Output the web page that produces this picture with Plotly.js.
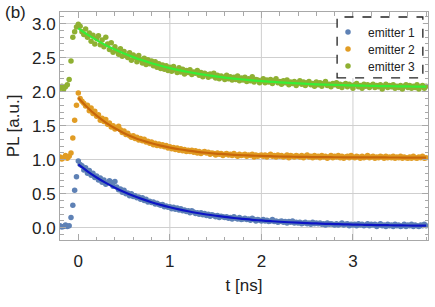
<!DOCTYPE html>
<html>
<head>
<meta charset="utf-8">
<script src="https://cdn.plot.ly/plotly-3.0.1.min.js"></script>
<style>
  html, body { margin: 0; padding: 0; background: #fff; }
  #plot { width: 435px; height: 307px; }
</style>
</head>
<body>
<div id="plot"></div>
<script>
// Time-resolved PL traces of three emitters (offset by 1 and 2), 20 ps bins
const binStart = -0.20;   // ns
const binWidth = 0.02;    // ns
const binCount = 201;

// emitter 1 (no offset)
const emitter1 = [
  0.03,0.01,0.02,0.04,0.02,0.03,0.15,0.33,0.55,0.75,
  0.98,
  0.93,0.91,0.85,0.88,0.80,0.84,0.77,0.80,0.74,0.76,
  0.70,0.73,0.67,0.70,0.64,0.66,0.69,0.67,0.61,0.68,
  0.60,0.56,0.57,0.52,0.55,0.50,0.51,0.47,0.50,0.46,
  0.47,0.44,0.45,0.42,0.44,0.40,0.42,0.38,0.39,0.37,
  0.38,0.35,0.36,0.34,0.33,0.34,0.31,0.32,0.30,0.31,
  0.28,0.30,0.27,0.29,0.26,0.28,0.25,0.26,0.24,0.25,
  0.22,0.25,0.23,0.21,0.22,0.20,0.22,0.19,0.21,0.18,
  0.20,0.17,0.19,0.18,0.16,0.18,0.15,0.17,0.16,0.15,
  0.16,0.14,0.15,0.13,0.16,0.14,0.13,0.15,0.12,0.13,
  0.14,0.12,0.13,0.11,0.14,0.12,0.10,0.12,0.11,0.10,
  0.12,0.10,0.11,0.09,0.10,0.12,0.09,0.10,0.08,0.09,
  0.10,0.08,0.09,0.07,0.09,0.08,0.10,0.07,0.08,0.07,
  0.08,0.06,0.07,0.08,0.06,0.07,0.05,0.08,0.06,0.07,
  0.06,0.07,0.05,0.06,0.04,0.07,0.05,0.06,0.05,0.04,
  0.06,0.04,0.05,0.07,0.04,0.05,0.06,0.03,0.05,0.04,
  0.05,0.03,0.06,0.04,0.05,0.03,0.04,0.06,0.03,0.05,
  0.04,0.05,0.02,0.04,0.06,0.03,0.04,0.02,0.05,0.03,
  0.04,0.02,0.05,0.03,0.04,0.02,0.03,0.05,0.02,0.04,
  0.03,0.05,0.02,0.04,0.03,0.02,0.04,0.03,0.05,0.03
];

// emitter 2 (offset +1)
const emitter2 = [
  1.04,1.01,1.03,1.06,1.02,1.05,1.10,1.32,1.58,1.80,
  1.98,
  1.90,1.86,1.83,1.79,1.80,1.72,1.76,1.68,1.71,1.64,
  1.66,1.58,1.61,1.56,1.59,1.52,1.54,1.48,1.50,1.45,
  1.47,1.49,1.44,1.40,1.42,1.37,1.39,1.35,1.33,1.35,
  1.31,1.33,1.29,1.31,1.28,1.30,1.26,1.27,1.24,1.26,
  1.22,1.24,1.21,1.23,1.20,1.22,1.19,1.21,1.17,1.19,
  1.16,1.18,1.15,1.17,1.14,1.16,1.13,1.15,1.12,1.14,
  1.12,1.14,1.11,1.13,1.10,1.12,1.09,1.11,1.12,1.10,
  1.11,1.08,1.10,1.09,1.07,1.10,1.08,1.09,1.06,1.08,
  1.09,1.07,1.08,1.06,1.09,1.07,1.05,1.08,1.06,1.07,
  1.08,1.05,1.07,1.06,1.08,1.04,1.07,1.05,1.06,1.07,
  1.05,1.07,1.04,1.06,1.08,1.05,1.06,1.04,1.07,1.05,
  1.06,1.04,1.05,1.07,1.03,1.06,1.05,1.04,1.06,1.05,
  1.04,1.06,1.03,1.05,1.07,1.04,1.05,1.03,1.06,1.04,
  1.05,1.03,1.06,1.04,1.05,1.02,1.04,1.06,1.03,1.05,
  1.04,1.06,1.03,1.05,1.02,1.04,1.05,1.03,1.06,1.04,
  1.03,1.05,1.04,1.02,1.05,1.03,1.04,1.06,1.03,1.04,
  1.05,1.02,1.04,1.03,1.05,1.04,1.02,1.05,1.03,1.04,
  1.03,1.05,1.02,1.04,1.03,1.05,1.02,1.04,1.03,1.02,
  1.04,1.02,1.05,1.03,1.02,1.04,1.03,1.05,1.02,1.03
];

// emitter 3 (offset +2)
const emitter3 = [
  2.05,2.08,2.04,2.07,2.10,2.18,2.45,2.80,2.88,2.95,
  2.99,
  2.96,2.88,2.84,2.92,2.80,2.86,2.74,2.83,2.70,2.78,
  2.82,2.69,2.76,2.66,2.80,2.70,2.62,2.72,2.58,2.66,
  2.60,2.55,2.63,2.52,2.59,2.53,2.50,2.57,2.46,2.54,
  2.50,2.44,2.53,2.47,2.42,2.49,2.40,2.47,2.41,2.45,
  2.38,2.44,2.36,2.41,2.34,2.39,2.33,2.38,2.31,2.36,
  2.30,2.37,2.32,2.28,2.35,2.29,2.33,2.26,2.31,2.28,
  2.32,2.25,2.29,2.27,2.31,2.24,2.28,2.22,2.27,2.25,
  2.21,2.26,2.23,2.27,2.20,2.24,2.19,2.23,2.21,2.18,
  2.24,2.19,2.22,2.17,2.21,2.18,2.23,2.16,2.20,2.17,
  2.21,2.15,2.19,2.16,2.22,2.14,2.18,2.17,2.13,2.16,
  2.19,2.13,2.17,2.14,2.18,2.12,2.16,2.19,2.13,2.15,
  2.11,2.16,2.13,2.17,2.10,2.14,2.12,2.15,2.09,2.13,
  2.16,2.11,2.14,2.09,2.13,2.15,2.10,2.12,2.08,2.14,
  2.10,2.13,2.08,2.12,2.15,2.09,2.11,2.07,2.12,2.10,
  2.13,2.08,2.11,2.06,2.10,2.12,2.07,2.11,2.09,2.05,
  2.10,2.12,2.07,2.09,2.05,2.11,2.08,2.10,2.06,2.09,
  2.11,2.06,2.09,2.07,2.10,2.04,2.08,2.11,2.06,2.09,
  2.07,2.10,2.05,2.08,2.06,2.09,2.04,2.08,2.10,2.06,
  2.09,2.05,2.08,2.06,2.10,2.04,2.07,2.09,2.05,2.08
];

// Mono-exponential fits, sampled every 0.1 ns from t = 0
const fitStep = 0.1;
const fit1 = [0.930,0.829,0.739,0.659,0.588,0.525,0.469,0.420,0.375,0.336,
  0.301,0.270,0.242,0.217,0.195,0.176,0.159,0.143,0.130,0.117,
  0.107,0.097,0.088,0.081,0.074,0.068,0.063,0.058,0.054,0.050,
  0.047,0.044,0.041,0.039,0.037,0.035,0.033,0.032,0.030];
const fit2 = [1.910,1.766,1.646,1.545,1.461,1.390,1.331,1.282,1.241,1.206,
  1.178,1.153,1.133,1.116,1.102,1.090,1.081,1.072,1.065,1.060,
  1.055,1.051,1.047,1.045,1.042,1.040,1.038,1.037,1.036,1.035,
  1.034,1.034,1.033,1.033,1.032,1.032,1.031,1.031,1.031];
const fit3 = [2.930,2.838,2.757,2.683,2.618,2.559,2.507,2.460,2.418,2.380,
  2.346,2.316,2.289,2.265,2.244,2.224,2.207,2.192,2.178,2.165,
  2.154,2.144,2.135,2.128,2.120,2.114,2.108,2.103,2.099,2.095,
  2.091,2.088,2.085,2.082,2.080,2.078,2.076,2.074,2.073];

const seriesNames = ['emitter 1', 'emitter 2', 'emitter 3'];
const xTicks = [0, 1, 2, 3];
const xGridAt = [1, 2, 3];

const t = Array.from({length: binCount}, (_, i) => +(binStart + i * binWidth).toFixed(3));
const tFit = Array.from({length: fit1.length}, (_, i) => +(i * fitStep).toFixed(2));

const dotColors = ['#5e81b5', '#e19c24', '#8fb032'];
const fitColors = ['#0c14c4', '#c8660a', '#36ee36'];
const FONT = 'Liberation Sans, Arial, sans-serif';
const TEXT = '#222';

const dataSets = [emitter1, emitter2, emitter3];
const fits = [fit1, fit2, fit3];
const legendIds = ['legend', 'legend2', 'legend3'];

const traces = [];
dataSets.forEach((ys, k) => {
  traces.push({
    type: 'scatter', mode: 'markers', x: t, y: ys, name: seriesNames[k],
    legend: legendIds[k],
    marker: {color: dotColors[k], size: 5.5}
  });
});
fits.forEach((ys, k) => {
  traces.push({
    type: 'scatter', mode: 'lines', x: tFit, y: ys, showlegend: false,
    line: {color: fitColors[k], width: 2.2, shape: 'spline'}
  });
});

const frameColor = '#a8a8a8';
const gridColor = '#cfcfcf';

const shapes = xGridAt.map(v => ({
  type: 'line', xref: 'x', yref: 'paper', x0: v, x1: v, y0: 0, y1: 1,
  line: {color: gridColor, width: 1}, layer: 'below'
}));
// dashed frame behind the legend entries
shapes.push({
  type: 'rect', xref: 'paper', yref: 'paper',
  x0: 0.753, x1: 0.986, y0: 0.711, y1: 0.978,
  fillcolor: '#ffffff', line: {color: '#222', width: 1.3, dash: 'dash'}, layer: 'above'
});

// one legend per entry so the rows sit at their own heights
const legendRowY = [0.912, 0.838, 0.763];
function legendBox(y) {
  return {
    x: 0.7283, y: y, xanchor: 'left', yanchor: 'middle',
    bgcolor: 'rgba(0,0,0,0)', borderwidth: 0,
    font: {family: FONT, size: 12, color: TEXT}
  };
}

const layout = {
  width: 435, height: 307,
  margin: {l: 60, r: 7, t: 12, b: 67},
  paper_bgcolor: '#fff', plot_bgcolor: '#fff',
  font: {family: FONT, color: TEXT},
  showlegend: true,
  legend: legendBox(legendRowY[0]),
  legend2: legendBox(legendRowY[1]),
  legend3: legendBox(legendRowY[2]),
  xaxis: {
    range: [-0.2, 3.82],
    tickvals: xTicks, ticktext: xTicks.map(String),
    ticks: 'inside', ticklen: 6, tickwidth: 1, tickcolor: frameColor,
    minor: {dtick: 0.2, tick0: 0, ticks: 'inside', ticklen: 3.5, tickcolor: frameColor, showgrid: false},
    showline: true, linecolor: frameColor, linewidth: 1, mirror: 'allticks',
    showgrid: false, zeroline: false,
    ticklabelstandoff: 6,
    tickfont: {family: FONT, size: 17, color: TEXT},
    title: {text: 't [ns]', font: {family: FONT, size: 17, color: TEXT}, standoff: 8}
  },
  yaxis: {
    range: [-0.18, 3.17],
    tick0: 0, dtick: 0.5, tickformat: '.1f',
    ticks: 'inside', ticklen: 6, tickwidth: 1, tickcolor: frameColor,
    minor: {dtick: 0.1, tick0: 0, ticks: 'inside', ticklen: 3.5, tickcolor: frameColor, showgrid: false},
    showline: true, linecolor: frameColor, linewidth: 1, mirror: 'allticks',
    showgrid: true, gridcolor: gridColor, gridwidth: 1, zeroline: false,
    tickfont: {family: FONT, size: 17, color: TEXT},
    title: {text: 'PL [a.u.]', font: {family: FONT, size: 17, color: TEXT}, standoff: 8}
  },
  shapes: shapes,
  annotations: [{
    text: '(b)', xref: 'paper', yref: 'paper', x: -0.155, y: 1.0,
    xanchor: 'left', yanchor: 'middle', showarrow: false,
    font: {family: FONT, size: 17, color: TEXT}
  }]
};

Plotly.newPlot('plot', traces, layout, {staticPlot: true, displayModeBar: false});
</script>
</body>
</html>
